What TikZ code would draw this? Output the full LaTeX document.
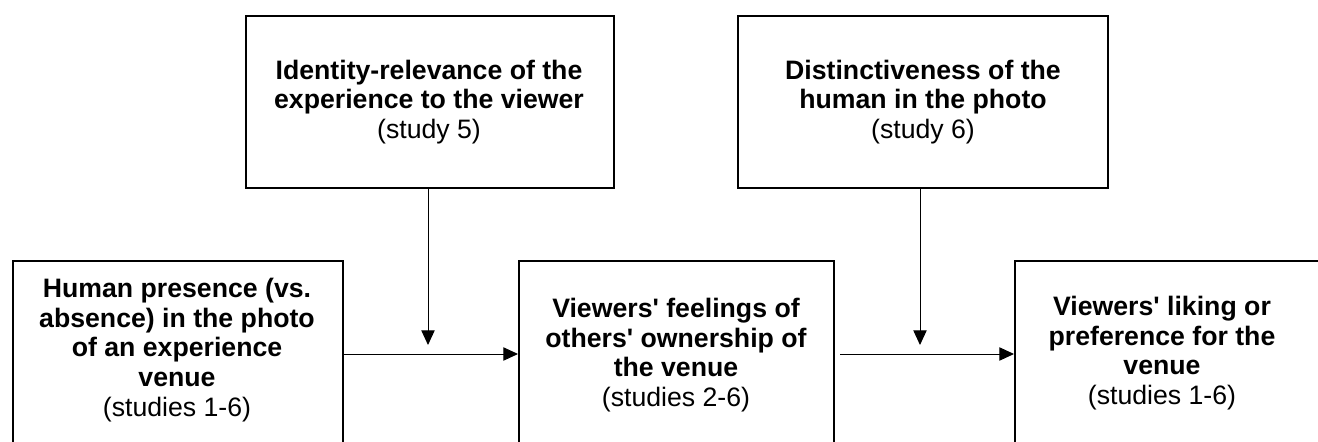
\documentclass[tikz,border=0pt]{standalone}
\usepackage{fontspec}
\setmainfont{Liberation Sans}
\usetikzlibrary{arrows.meta,positioning}

\tikzset{every picture/.style={line width=0.75pt}}

\begin{document}
\begin{tikzpicture}[x=0.75pt,y=0.75pt,yscale=-1,
	box/.style={draw, line width=1.5pt, anchor=north west, inner sep=0pt},
	boxtext/.style={align=center, font=\fontsize{20}{22.2}\selectfont},
	arr/.style={-{Triangle[length=11pt,width=10pt]}, line width=0.75pt}]
		%set diagram to 1318 x 442
		\useasboundingbox (0,0) rectangle (1318,442);
		\clip (0,0) rectangle (1318,442);
		
		%Top boxes (moderators)
		\node[box, minimum width=276pt, minimum height=129pt] (idrel) at (245,15) {};
		\node[boxtext] (idrel-t) at (429,102) {\textbf{Identity-relevance of the}\\\textbf{experience to the viewer}\\(study 5)};
		\node[box, minimum width=277.5pt, minimum height=129pt] (dist) at (737,15) {};
		\node[boxtext] (dist-t) at (923,102) {\textbf{Distinctiveness of the}\\\textbf{human in the photo}\\(study 6)};
		
		%Bottom boxes
		\node[box, minimum width=247.5pt, minimum height=150pt] (human) at (12,260) {};
		\node[boxtext] (human-t) at (177,350) {\textbf{Human presence (vs.}\\\textbf{absence) in the photo}\\\textbf{of an experience}\\\textbf{venue}\\(studies 1-6)};
		\node[box, minimum width=236.25pt, minimum height=150pt] (own) at (518,260) {};
		\node[boxtext] (own-t) at (676,355) {\textbf{Viewers\textquotesingle{} feelings of}\\\textbf{others\textquotesingle{} ownership of}\\\textbf{the venue}\\(studies 2-6)};
		\node[box, minimum width=247.5pt, minimum height=150pt] (like) at (1014,260) {};
		\node[boxtext] (like-t) at (1162,353) {\textbf{Viewers\textquotesingle{} liking or}\\\textbf{preference for the}\\\textbf{venue}\\(studies 1-6)};
		
		%Arrow ends
		\coordinate (idrel-end) at (428,345);
		\coordinate (dist-end) at (920,345);
		
		%Arrows
		\draw[arr] (idrel.south -| idrel-end) -- (idrel-end);
		\draw[arr] (dist.south -| dist-end) -- (dist-end);
		\draw[arr] (human.east |- 0,354) -- (own.west |- 0,354);
		\draw[arr] ([xshift=4pt]own.east |- 0,354) -- (like.west |- 0,354);
\end{tikzpicture}
\end{document}
